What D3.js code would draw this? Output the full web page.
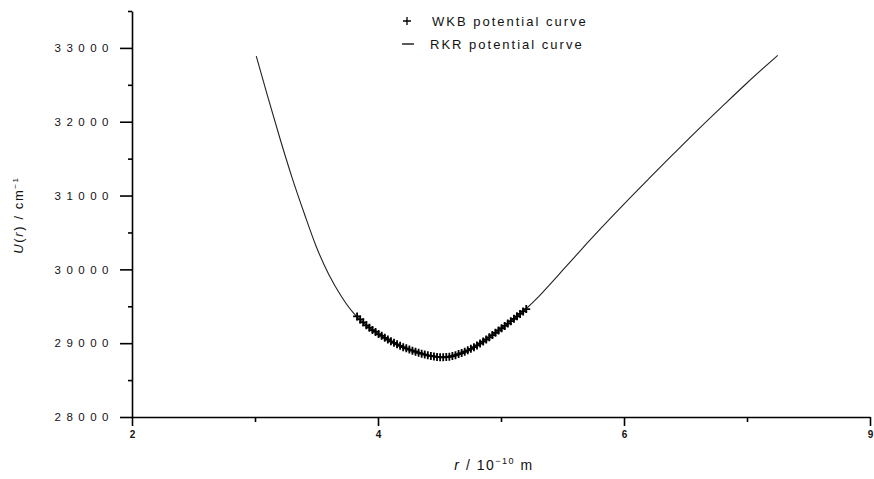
<!DOCTYPE html>
<html>
<head>
<meta charset="utf-8">
<script src="https://cdn.jsdelivr.net/npm/d3@7"></script>
<style>
    body { margin: 0; background: #fff; }
    text { font-family: "Liberation Sans", Arial, sans-serif; fill: #111; }
    .axis path, .axis line { stroke: #000; stroke-width: 1.6; }
</style>
</head>
<body>
<div id="chart"></div>
<script>
// RKR potential curve (r in 1e-10 m, U in cm^-1)
const rkrR = [3.01, 3.10, 3.20, 3.30, 3.40, 3.50, 3.60, 3.70, 3.80, 3.90, 4.00, 4.10, 4.20, 4.30, 4.40, 4.50,
    4.60, 4.70, 4.80, 4.90, 5.00, 5.10, 5.20, 5.30, 5.40, 5.50, 5.60, 5.70, 5.80, 6.00, 6.20, 6.40, 6.60, 6.80, 7.00, 7.25]
const rkrU = [32890, 32360, 31790, 31250, 30760, 30300, 29930, 29640, 29410, 29250, 29130, 29030, 28950, 28885, 28838, 28810,
    28825, 28880, 28965, 29075, 29195, 29325, 29460, 29620, 29800, 29985, 30170, 30355, 30535, 30885, 31225, 31560, 31890, 32210, 32525, 32900]

// WKB potential points
const wkbR = [3.830, 3.855, 3.880, 3.905, 3.930, 3.955, 3.980, 4.005, 4.030, 4.055, 4.080, 4.105, 4.130, 4.155,
    4.180, 4.205, 4.230, 4.255, 4.280, 4.305, 4.330, 4.355, 4.380, 4.405, 4.430, 4.455, 4.480, 4.505, 4.530,
    4.555, 4.580, 4.605, 4.630, 4.655, 4.680, 4.705, 4.730, 4.755, 4.780, 4.805, 4.830, 4.855, 4.880, 4.905,
    4.930, 4.955, 4.980, 5.005, 5.030, 5.055, 5.080, 5.105, 5.130, 5.155, 5.180, 5.205]
const wkbU = [29362, 29322, 29283, 29242, 29210, 29178, 29152, 29124, 29100, 29073, 29050, 29025, 29005, 28985,
    28964, 28946, 28930, 28914, 28898, 28884, 28870, 28858, 28846, 28836, 28828, 28820, 28814, 28810, 28809,
    28812, 28816, 28826, 28838, 28852, 28866, 28884, 28903, 28924, 28946, 28970, 28996, 29022, 29050, 29080,
    29110, 29140, 29172, 29202, 29234, 29266, 29298, 29330, 29364, 29396, 29430, 29462]

// ticks
const xMajor = [2, 4, 6, 8]
const xLabels = ["2", "4", "6", "9"]
const xMinor = [3, 5, 7]
const yMajor = [28000, 29000, 30000, 31000, 32000, 33000]
const yMinor = [28500, 29500, 30500, 31500, 32500, 33500]

function plotChart() {
    const rkr = rkrR.map((r, i) => ({ r, u: rkrU[i] }))
    const wkb = wkbR.map((r, i) => ({ r, u: wkbU[i] }))

    const dimensions = {
        width: 874,
        height: 479,
        margins: { top: 11, right: 4, bottom: 62, left: 132 }
    }
    dimensions.boundedWidth = dimensions.width - dimensions.margins.left - dimensions.margins.right
    dimensions.boundedHeight = dimensions.height - dimensions.margins.top - dimensions.margins.bottom

    const wrapper = d3.select("#chart").append("svg")
        .attr("width", dimensions.width)
        .attr("height", dimensions.height)

    const bounds = wrapper.append("g")
        .attr("transform", `translate(${dimensions.margins.left},${dimensions.margins.top})`)

    // scales
    const xScale = d3.scaleLinear()
        .domain([2, 8])
        .range([0, dimensions.boundedWidth])

    const yScale = d3.scaleLinear()
        .domain([28000, 33500])
        .range([dimensions.boundedHeight, 0])

    // RKR line
    const lineGen = d3.line()
        .x(d => xScale(d.r))
        .y(d => yScale(d.u))
        .curve(d3.curveMonotoneX)

    bounds.append("path")
        .datum(rkr)
        .attr("d", lineGen)
        .attr("fill", "none")
        .attr("stroke", "#222")
        .attr("stroke-width", 1.1)

    // WKB crosses, packed so tight they read as a band
    const cross = "M-4,0H4M0,-4V4"
    bounds.selectAll(".wkb")
        .data(wkb)
        .enter().append("path")
        .attr("class", "wkb")
        .attr("d", cross)
        .attr("transform", d => `translate(${xScale(d.r)},${yScale(d.u)})`)
        .attr("stroke", "#000")
        .attr("stroke-width", 1.8)
        .attr("fill", "none")

    // axes
    const yAxis = bounds.append("g")
        .attr("class", "axis")
        .call(d3.axisLeft(yScale).tickValues(yMajor).tickSize(12).tickSizeOuter(0).tickPadding(6).tickFormat(d3.format("d")))
    yAxis.selectAll("text")
        .attr("font-size", "11.5px")
        .attr("letter-spacing", "5.5px")
        .attr("fill", "#111")

    bounds.append("g")
        .attr("class", "axis")
        .call(d3.axisLeft(yScale).tickValues(yMinor).tickSize(4).tickSizeOuter(0).tickFormat(""))
        .select(".domain").remove()

    const xAxis = bounds.append("g")
        .attr("class", "axis")
        .attr("transform", `translate(0,${dimensions.boundedHeight})`)
        .call(d3.axisBottom(xScale).tickValues(xMajor).tickSize(9).tickSizeOuter(0).tickPadding(5)
            .tickFormat((d, i) => xLabels[i]))
    xAxis.selectAll("text")
        .attr("font-size", "10px")
        .attr("font-weight", "bold")
        .attr("fill", "#111")

    bounds.append("g")
        .attr("class", "axis")
        .attr("transform", `translate(0,${dimensions.boundedHeight})`)
        .call(d3.axisBottom(xScale).tickValues(xMinor).tickSize(5).tickSizeOuter(0).tickFormat(""))
        .select(".domain").remove()

    // x axis label
    const xLabel = wrapper.append("text")
        .attr("x", 494)
        .attr("y", 470)
        .attr("text-anchor", "middle")
        .attr("font-size", "14px")
        .attr("letter-spacing", "1.5px")
    xLabel.append("tspan").attr("font-style", "italic").text("r")
    xLabel.append("tspan").text(" / 10")
    xLabel.append("tspan").attr("font-size", "9px").attr("dy", -6).text("−10")
    xLabel.append("tspan").attr("dy", 6).text(" m")

    // y axis label
    const yLabel = wrapper.append("text")
        .attr("transform", "rotate(-90)")
        .attr("x", -215)
        .attr("y", 23)
        .attr("text-anchor", "middle")
        .attr("font-size", "13px")
        .attr("letter-spacing", "1.6px")
    yLabel.append("tspan").attr("font-style", "italic").text("U")
    yLabel.append("tspan").text("(")
    yLabel.append("tspan").attr("font-style", "italic").text("r")
    yLabel.append("tspan").text(") / cm")
    yLabel.append("tspan").attr("font-size", "8px").attr("dy", -5).text("−1")

    // legend
    const legend = wrapper.append("g")
    legend.append("path")
        .attr("d", cross)
        .attr("transform", "translate(407,21)")
        .attr("stroke", "#000")
        .attr("stroke-width", 1.3)
        .attr("fill", "none")
    legend.append("text")
        .attr("x", 432)
        .attr("y", 26)
        .attr("font-size", "13px")
        .attr("letter-spacing", "2px")
        .text("WKB potential curve")
    legend.append("line")
        .attr("x1", 402).attr("x2", 414)
        .attr("y1", 44).attr("y2", 44)
        .attr("stroke", "#000")
        .attr("stroke-width", 1.3)
    legend.append("text")
        .attr("x", 430)
        .attr("y", 49)
        .attr("font-size", "13px")
        .attr("letter-spacing", "2px")
        .text("RKR potential curve")
}

plotChart()
</script>
</body>
</html>
